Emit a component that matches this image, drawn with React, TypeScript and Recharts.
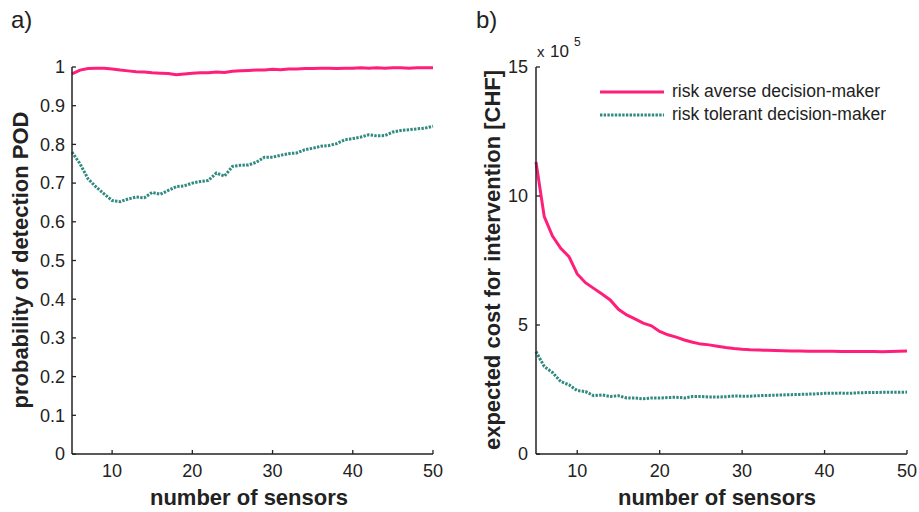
import { LineChart, Line, XAxis, YAxis, Legend } from "recharts";

// number of sensors (x axis of both panels)
const sensors = [
  5, 6, 7, 8, 9, 10, 11, 12, 13, 14, 15, 16, 17, 18, 19, 20, 21, 22, 23, 24, 25, 26, 27,
  28, 29, 30, 31, 32, 33, 34, 35, 36, 37, 38, 39, 40, 41, 42, 43, 44, 45, 46, 47, 48, 49, 50,
];

// a) probability of detection POD
const podAverse = [
  0.982, 0.992, 0.996, 0.997, 0.997, 0.995, 0.992, 0.99, 0.988, 0.987, 0.985, 0.984, 0.983,
  0.98, 0.982, 0.984, 0.985, 0.985, 0.987, 0.986, 0.989, 0.99, 0.991, 0.992, 0.992, 0.994,
  0.993, 0.995, 0.995, 0.996, 0.996, 0.997, 0.997, 0.996, 0.997, 0.997, 0.998, 0.997, 0.998,
  0.997, 0.998, 0.998, 0.997, 0.998, 0.998, 0.998,
];
const podTolerant = [
  0.78, 0.75, 0.711, 0.69, 0.672, 0.655, 0.652, 0.659, 0.664, 0.662, 0.676, 0.671, 0.681,
  0.691, 0.693, 0.7, 0.704, 0.707, 0.726, 0.718, 0.743, 0.746, 0.747, 0.754, 0.767, 0.767,
  0.772, 0.776, 0.778, 0.786, 0.79, 0.795, 0.797, 0.802, 0.812, 0.815, 0.819, 0.825, 0.822,
  0.823, 0.832, 0.836, 0.838, 0.84, 0.842, 0.847,
];

// b) expected cost for intervention, in 10^5 CHF
const costAverse = [
  11.32, 9.2, 8.45, 7.97, 7.65, 6.98, 6.64, 6.42, 6.2, 5.97, 5.61, 5.39, 5.24, 5.07, 4.97,
  4.75, 4.62, 4.53, 4.42, 4.33, 4.26, 4.23, 4.18, 4.13, 4.09, 4.06, 4.04, 4.03, 4.02, 4.01,
  4.0, 3.99, 3.99, 3.98, 3.98, 3.98, 3.98, 3.97, 3.97, 3.97, 3.97, 3.97, 3.96, 3.97, 3.98, 3.99,
];
const costTolerant = [
  3.97, 3.39, 3.16, 2.81, 2.68, 2.46, 2.42, 2.26, 2.29, 2.23, 2.26, 2.17, 2.17, 2.14, 2.17,
  2.17, 2.19, 2.2, 2.17, 2.23, 2.23, 2.21, 2.21, 2.22, 2.25, 2.24, 2.24, 2.26, 2.27, 2.28,
  2.29, 2.3, 2.31, 2.32, 2.33, 2.35, 2.35, 2.36, 2.35, 2.37, 2.38, 2.38, 2.39, 2.39, 2.39, 2.4,
];

const seriesNames = ["risk averse decision-maker", "risk tolerant decision-maker"];
const xTicks = [10, 20, 30, 40, 50];
const podTicks = [0, 0.1, 0.2, 0.3, 0.4, 0.5, 0.6, 0.7, 0.8, 0.9, 1];
const costTicks = [0, 5, 10, 15];

const podData = sensors.map((n, i) => ({ sensors: n, averse: podAverse[i], tolerant: podTolerant[i] }));
const costData = sensors.map((n, i) => ({ sensors: n, averse: costAverse[i], tolerant: costTolerant[i] }));

const FONT = '"Liberation Sans", Arial, Helvetica, sans-serif';
const INK = "#222";
const PINK = "#ff1f7b";
const TEAL = "#2f8a80";
const TEAL_DASH = "2.4 1.3";

const tickStyle = { fontSize: 18, fill: INK, fontFamily: FONT };
const axisLine = { stroke: INK, strokeWidth: 1.5 };
const tickLine = { stroke: INK, strokeWidth: 1.3 };

function fmtPod(v: number) {
  if (v === 0 || v === 1) return String(v);
  return v.toFixed(1);
}

function LegendBox() {
  const styles = [
    { color: PINK, dash: undefined },
    { color: TEAL, dash: TEAL_DASH },
  ];
  return (
    <div style={{ fontFamily: FONT, fontSize: 17.5, color: INK }}>
      {seriesNames.map((name, i) => (
        <div key={name} style={{ display: "flex", alignItems: "center", height: 23 }}>
          <svg width={64} height={6} style={{ marginRight: 8 }}>
            <line x1={0} y1={3} x2={64} y2={3} stroke={styles[i].color} strokeWidth={3} strokeDasharray={styles[i].dash} />
          </svg>
          <span>{name}</span>
        </div>
      ))}
    </div>
  );
}

export default function App() {
  return (
    <div style={{ position: "absolute", left: 0, top: 0, width: 919, height: 512, background: "#fff" }}>
      <div style={{ position: "absolute", left: 0, top: 0 }}>
        <LineChart width={460} height={512} data={podData} margin={{ top: 67, right: 27, bottom: 0, left: 0 }}>
          <XAxis
            dataKey="sensors"
            type="number"
            domain={[5, 50]}
            ticks={xTicks}
            height={58}
            tick={tickStyle}
            axisLine={axisLine}
            tickLine={tickLine}
            tickSize={-4}
            tickMargin={14}
          />
          <YAxis
            type="number"
            domain={[0, 1]}
            ticks={podTicks}
            width={72}
            tick={tickStyle}
            tickFormatter={fmtPod}
            axisLine={axisLine}
            tickLine={tickLine}
            tickSize={-4}
            tickMargin={11}
            interval={0}
          />
          <Line dataKey="averse" name={seriesNames[0]} stroke={PINK} strokeWidth={3} dot={false} isAnimationActive={false} />
          <Line
            dataKey="tolerant"
            name={seriesNames[1]}
            stroke={TEAL}
            strokeWidth={3}
            strokeDasharray={TEAL_DASH}
            dot={false}
            isAnimationActive={false}
          />
        </LineChart>
      </div>

      <div style={{ position: "absolute", left: 460, top: 0 }}>
        <LineChart width={459} height={512} data={costData} margin={{ top: 67, right: 12, bottom: 0, left: 0 }}>
          <XAxis
            dataKey="sensors"
            type="number"
            domain={[5, 50]}
            ticks={xTicks}
            height={58}
            tick={tickStyle}
            axisLine={axisLine}
            tickLine={tickLine}
            tickSize={-4}
            tickMargin={14}
          />
          <YAxis
            type="number"
            domain={[0, 15]}
            ticks={costTicks}
            width={76}
            tick={tickStyle}
            axisLine={axisLine}
            tickLine={tickLine}
            tickSize={-4}
            tickMargin={12}
            interval={0}
          />
          <Legend
            layout="vertical"
            align="center"
            verticalAlign="middle"
            content={() => <LegendBox />}
            wrapperStyle={{ position: "absolute", left: 140, top: 80, width: 300, height: 46 }}
          />
          <Line dataKey="averse" name={seriesNames[0]} stroke={PINK} strokeWidth={3} dot={false} isAnimationActive={false} />
          <Line
            dataKey="tolerant"
            name={seriesNames[1]}
            stroke={TEAL}
            strokeWidth={3}
            strokeDasharray={TEAL_DASH}
            dot={false}
            isAnimationActive={false}
          />
        </LineChart>
      </div>

      <svg
        width={919}
        height={512}
        style={{ position: "absolute", left: 0, top: 0, pointerEvents: "none" }}
        fontFamily={FONT}
        fill={INK}
      >
        <text x={11} y={28} fontSize={24}>a)</text>
        <text x={476} y={28} fontSize={24}>b)</text>

        <text x={537} y={57} fontSize={15}>x</text>
        <text x={550} y={57} fontSize={17}>10</text>
        <text x={574} y={46} fontSize={12}>5</text>

        <text x={249} y={505} fontSize={22} fontWeight="bold" textAnchor="middle">number of sensors</text>
        <text x={717} y={505} fontSize={22} fontWeight="bold" textAnchor="middle">number of sensors</text>

        <text transform="translate(28,260) rotate(-90)" fontSize={22} fontWeight="bold" textAnchor="middle">
          probability of detection POD
        </text>
        <text transform="translate(500,260) rotate(-90)" fontSize={22} fontWeight="bold" textAnchor="middle">
          expected cost for intervention [CHF]
        </text>
      </svg>
    </div>
  );
}
